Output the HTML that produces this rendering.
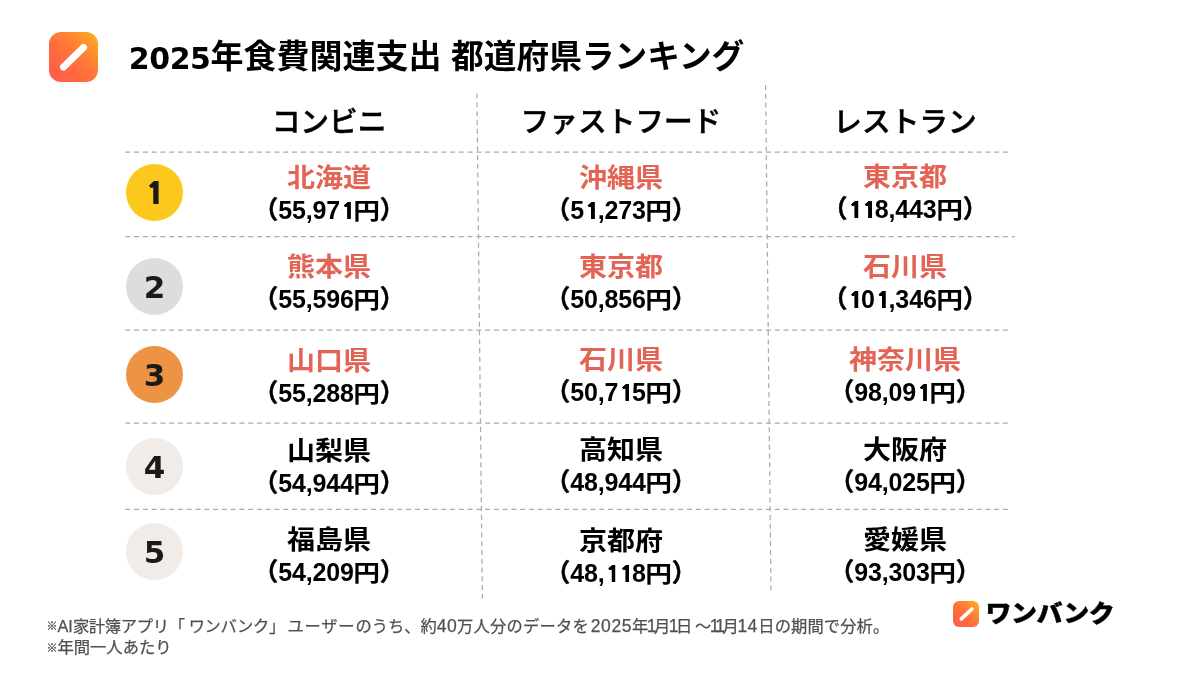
<!DOCTYPE html>
<html lang="ja">
<head>
<meta charset="utf-8">
<title>2025年食費関連支出 都道府県ランキング</title>
<style>
html,body{margin:0;padding:0;}
body{width:1200px;height:674px;background:#fff;position:relative;overflow:hidden;
  font-family:"Liberation Sans","Noto Sans CJK JP",sans-serif;color:#000;}
.abs{position:absolute;white-space:nowrap;}
#lines{position:absolute;left:0;top:0;}
.logo{position:absolute;border-radius:12px;background:linear-gradient(45deg,#ff5a4c 0%,#ff6840 35%,#ff8234 65%,#ffa226 88%,#ffb41e 100%);}
#title{left:128.8px;top:34px;font-size:32.7px;line-height:46px;font-weight:700;color:#000;word-spacing:0.5px;}
#title .k{font-size:33px;}
#title .num{font-family:"DejaVu Sans","Liberation Sans",sans-serif;font-size:30px;letter-spacing:-0.45px;position:relative;top:0.7px;}
.hd{position:absolute;top:100px;width:300px;margin-left:-150px;text-align:center;font-size:28.7px;line-height:44px;font-weight:500;-webkit-text-stroke:0.5px #000;white-space:nowrap;color:#000;}
.cell{position:absolute;width:300px;margin-left:-150px;text-align:center;white-space:nowrap;}
.cell .p{font-size:28px;line-height:30px;font-weight:700;color:#000;transform:scaleY(0.93);transform-origin:50% 100%;}
.cell.r .p{color:#e36455;}
.cell .a{font-size:25px;line-height:28px;font-weight:700;color:#000;margin-top:1px;letter-spacing:-0.15px;}
.cell .a b{display:inline-block;font-weight:700;transform:scale(1.07,0.93);transform-origin:50% 82%;margin:0 0.6px;}
.cell .a u{text-decoration:none;font-family:"NanumGothic","Liberation Sans",sans-serif;font-size:23px;display:inline-block;width:13.75px;text-align:center;position:relative;left:1.5px;letter-spacing:0;line-height:1px;text-shadow:0.6px 0 0 #000,-0.6px 0 0 #000,0.25px 0 0 #000,-0.25px 0 0 #000;}
.cell .a i{font-style:normal;font-family:"Noto Sans CJK JP",sans-serif;font-feature-settings:"halt";font-weight:700;-webkit-text-stroke:0.45px #000;}
.rk{position:absolute;left:126px;width:57px;height:57px;border-radius:50%;text-align:center;
  font-family:"DejaVu Sans","Liberation Sans",sans-serif;font-weight:700;font-size:31px;line-height:58px;color:#1c1a17;}
.rk.one{font-family:"NanumGothic","Liberation Sans",sans-serif;font-size:29.3px;line-height:59.2px;text-indent:1.5px;text-shadow:1.1px 0 0 #1e1e1e,-1.1px 0 0 #1e1e1e,0.4px 0 0 #1e1e1e,-0.4px 0 0 #1e1e1e;}
.c1{left:329px;} .c2{left:621px;} .c3{left:905px;}
.cell.c2{margin-top:-0.4px;} .cell.c3{margin-top:-0.8px;}
#foot{left:47px;top:616.6px;font-size:16.3px;line-height:19.5px;color:#505050;font-weight:400;-webkit-text-stroke:0.25px #505050;white-space:nowrap;}
#foot .kome{display:inline-block;width:10.5px;font-size:11px;font-weight:700;color:#444;text-indent:-0.5px;position:relative;top:-1.5px;}
#foot .n{font-size:17.5px;letter-spacing:0.4px;line-height:1px;}
#foot .g{display:inline-block;width:2.4px;}
#foot .n u{text-decoration:none;display:inline-block;width:5.7px;text-indent:-1.6px;letter-spacing:0;}
#brand{left:985.6px;-webkit-text-stroke:0.45px #000;top:593.2px;font-size:26px;line-height:38px;font-weight:900;font-family:"Noto Sans CJK JP",sans-serif;color:#000;letter-spacing:-0.55px;transform:scaleY(0.93);transform-origin:0 50%;}
</style>
</head>
<body>

<svg id="lines" width="1200" height="674" viewBox="0 0 1200 674" fill="none" stroke="#ababab" stroke-width="1.25" stroke-dasharray="5 3.776">
  <line x1="125.3" y1="152.2" x2="1008" y2="152.2"/>
  <line x1="125.3" y1="236.6" x2="1015" y2="236.6"/>
  <line x1="125.3" y1="330.2" x2="1008" y2="330.2"/>
  <line x1="125.3" y1="423" x2="1008" y2="423"/>
  <line x1="125.3" y1="509.3" x2="1008" y2="509.3"/>
  <line x1="476.9" y1="93.6" x2="482.4" y2="599"/>
  <line x1="765.6" y1="85" x2="771" y2="593"/>
</svg>

<div class="logo" style="left:49px;top:32px;width:49px;height:50px;">
  <svg width="49" height="50" viewBox="0 0 49 50"><line x1="14.5" y1="35" x2="34.5" y2="15.5" stroke="#fff" stroke-width="7" stroke-linecap="round"/></svg>
</div>
<div id="title" class="abs"><span class="num">2025</span><span class="k">年食費関連支出</span> 都道府県ランキング</div>

<div class="hd c1">コンビニ</div>
<div class="hd c2">ファストフード</div>
<div class="hd c3">レストラン</div>

<div class="rk one" style="top:164px;background:#fdc81d;">1</div>
<div class="rk" style="top:257.5px;background:#dddddd;">2</div>
<div class="rk" style="top:346px;background:#ec9444;">3</div>
<div class="rk" style="top:438.3px;background:#f1ece7;">4</div>
<div class="rk" style="top:522.7px;background:#f1ece7;">5</div>

<div class="cell r c1" style="top:163px;"><div class="p">北海道</div><div class="a"><i>（</i>55,97<u>1</u><b>円</b><i>）</i></div></div>
<div class="cell r c2" style="top:163px;"><div class="p">沖縄県</div><div class="a"><i>（</i>5<u>1</u>,273<b>円</b><i>）</i></div></div>
<div class="cell r c3" style="top:163px;"><div class="p">東京都</div><div class="a"><i>（</i><u>1</u><u>1</u>8,443<b>円</b><i>）</i></div></div>

<div class="cell r c1" style="top:252.2px;"><div class="p">熊本県</div><div class="a"><i>（</i>55,596<b>円</b><i>）</i></div></div>
<div class="cell r c2" style="top:252.7px;"><div class="p">東京都</div><div class="a"><i>（</i>50,856<b>円</b><i>）</i></div></div>
<div class="cell r c3" style="top:252.7px;"><div class="p">石川県</div><div class="a"><i>（</i><u>1</u>0<u>1</u>,346<b>円</b><i>）</i></div></div>

<div class="cell r c1" style="top:345.5px;"><div class="p">山口県</div><div class="a"><i>（</i>55,288<b>円</b><i>）</i></div></div>
<div class="cell r c2" style="top:345.5px;"><div class="p">石川県</div><div class="a"><i>（</i>50,7<u>1</u>5<b>円</b><i>）</i></div></div>
<div class="cell r c3" style="top:345.5px;"><div class="p">神奈川県</div><div class="a"><i>（</i>98,09<u>1</u><b>円</b><i>）</i></div></div>

<div class="cell c1" style="top:435.5px;"><div class="p">山梨県</div><div class="a"><i>（</i>54,944<b>円</b><i>）</i></div></div>
<div class="cell c2" style="top:435.5px;"><div class="p">高知県</div><div class="a"><i>（</i>48,944<b>円</b><i>）</i></div></div>
<div class="cell c3" style="top:435.5px;"><div class="p">大阪府</div><div class="a"><i>（</i>94,025<b>円</b><i>）</i></div></div>

<div class="cell c1" style="top:525.4px;"><div class="p">福島県</div><div class="a"><i>（</i>54,209<b>円</b><i>）</i></div></div>
<div class="cell c2" style="top:526.4px;"><div class="p">京都府</div><div class="a"><i>（</i>48,<u>1</u><u>1</u>8<b>円</b><i>）</i></div></div>
<div class="cell c3" style="top:526px;"><div class="p">愛媛県</div><div class="a"><i>（</i>93,303<b>円</b><i>）</i></div></div>

<div id="foot" class="abs"><span class="kome">※</span>AI<span style="letter-spacing:-0.3px">家計簿アプリ「</span><span class="g" style="width:3.9px"></span><span style="letter-spacing:-0.4px">ワンバンク</span>」<span class="g"></span><span style="letter-spacing:0.75px">ユーザー</span>のうち、約<span class="n">40</span><span style="letter-spacing:0.2px">万人分のデータを</span><span class="n" style="margin-left:1.8px;letter-spacing:0.6px;">2025</span>年<span class="n"><u>1</u></span>月<span class="n"><u>1</u></span>日<span style="margin-left:2.6px">～</span><span class="n"><u>1</u><u>1</u></span>月<span class="n" style="margin-left:0.3px;margin-right:0.7px;"><u style="margin-right:2.6px">1</u>4</span><span style="letter-spacing:0.1px">日の期間で分析。</span><br><span class="kome">※</span>年間一人あたり</div>

<div class="logo" style="left:953px;top:601px;width:26px;height:26px;border-radius:6px;">
  <svg width="26" height="26" viewBox="0 0 26 26"><line x1="8.3" y1="17.9" x2="18.9" y2="8" stroke="#fff" stroke-width="3.6" stroke-linecap="round"/></svg>
</div>
<div id="brand" class="abs">ワンバンク</div>

</body>
</html>
